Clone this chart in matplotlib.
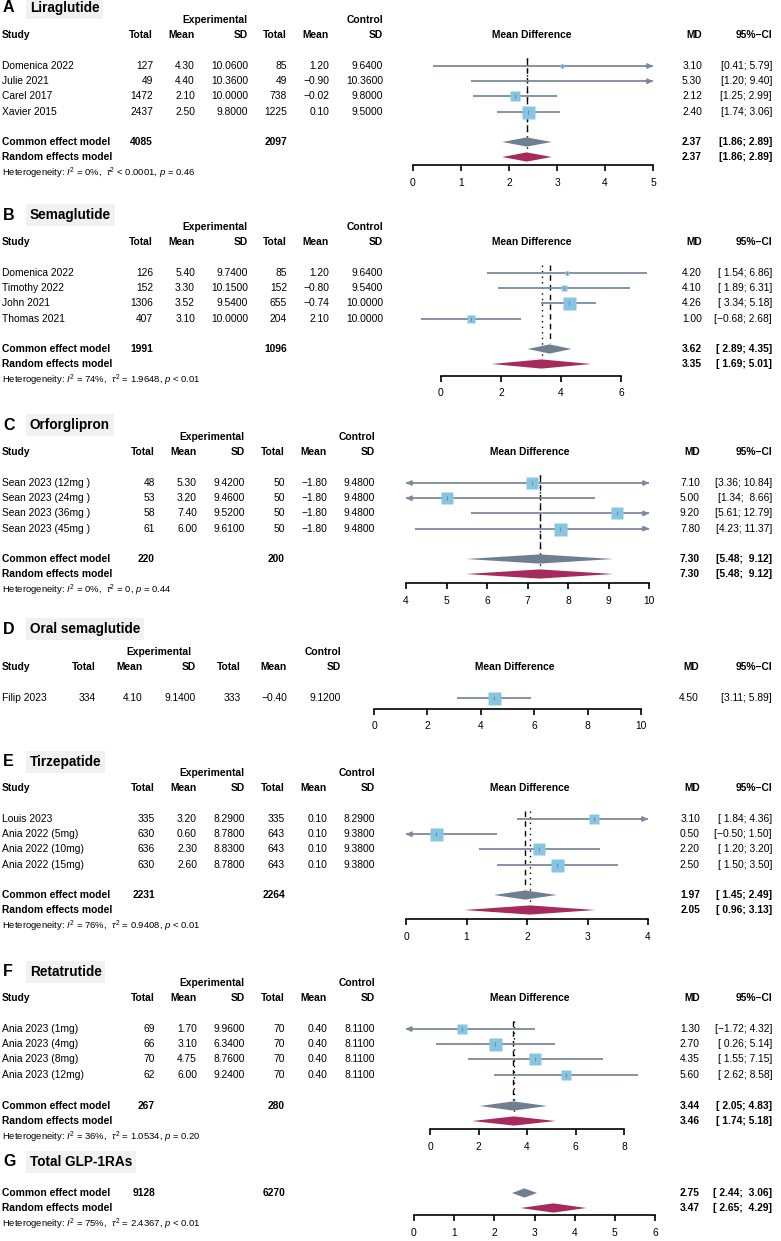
import numpy as np
import matplotlib
matplotlib.use("Agg")
import matplotlib.pyplot as plt

plt.rcParams['font.family'] = ['Liberation Sans', 'DejaVu Sans']
plt.rcParams['mathtext.fontset'] = 'custom'
plt.rcParams['mathtext.rm'] = 'Liberation Sans'
plt.rcParams['mathtext.it'] = 'Liberation Sans:italic'
plt.rcParams['mathtext.bf'] = 'Liberation Sans:bold'

# ---- data ----
# A Liraglutide
lira_study = ["Domenica 2022", "Julie 2021", "Carel 2017", "Xavier 2015"]
lira_e_n = [127, 49, 1472, 2437]
lira_e_mean = [4.30, 4.40, 2.10, 2.50]
lira_e_sd = [10.06, 10.36, 10.00, 9.80]
lira_c_n = [85, 49, 738, 1225]
lira_c_mean = [1.20, -0.90, -0.02, 0.10]
lira_c_sd = [9.64, 10.36, 9.80, 9.50]
lira_md = [3.10, 5.30, 2.12, 2.40]
lira_lo = [0.41, 1.20, 1.25, 1.74]
lira_hi = [5.79, 9.40, 2.99, 3.06]
lira_common = [2.37, 1.86, 2.89]
lira_random = [2.37, 1.86, 2.89]
lira_tot = [4085, 2097]
lira_het = ["0%", "< 0.0001", "= 0.46"]

# B Semaglutide
sema_study = ["Domenica 2022", "Timothy 2022", "John 2021", "Thomas 2021"]
sema_e_n = [126, 152, 1306, 407]
sema_e_mean = [5.40, 3.30, 3.52, 3.10]
sema_e_sd = [9.74, 10.15, 9.54, 10.00]
sema_c_n = [85, 152, 655, 204]
sema_c_mean = [1.20, -0.80, -0.74, 2.10]
sema_c_sd = [9.64, 9.54, 10.00, 10.00]
sema_md = [4.20, 4.10, 4.26, 1.00]
sema_lo = [1.54, 1.89, 3.34, -0.68]
sema_hi = [6.86, 6.31, 5.18, 2.68]
sema_common = [3.62, 2.89, 4.35]
sema_random = [3.35, 1.69, 5.01]
sema_tot = [1991, 1096]
sema_het = ["74%", "= 1.9648", "< 0.01"]

# C Orforglipron
orfo_study = ["Sean 2023 (12mg )", "Sean 2023 (24mg )", "Sean 2023 (36mg )", "Sean 2023 (45mg )"]
orfo_e_n = [48, 53, 58, 61]
orfo_e_mean = [5.30, 3.20, 7.40, 6.00]
orfo_e_sd = [9.42, 9.46, 9.52, 9.61]
orfo_c_n = [50, 50, 50, 50]
orfo_c_mean = [-1.80, -1.80, -1.80, -1.80]
orfo_c_sd = [9.48, 9.48, 9.48, 9.48]
orfo_md = [7.10, 5.00, 9.20, 7.80]
orfo_lo = [3.36, 1.34, 5.61, 4.23]
orfo_hi = [10.84, 8.66, 12.79, 11.37]
orfo_common = [7.30, 5.48, 9.12]
orfo_random = [7.30, 5.48, 9.12]
orfo_tot = [220, 200]
orfo_het = ["0%", "= 0", "= 0.44"]

# D Oral semaglutide
oral_study = ["Filip 2023"]
oral_e_n = [334]
oral_e_mean = [4.10]
oral_e_sd = [9.14]
oral_c_n = [333]
oral_c_mean = [-0.40]
oral_c_sd = [9.12]
oral_md = [4.50]
oral_lo = [3.11]
oral_hi = [5.89]

# E Tirzepatide
tirz_study = ["Louis 2023", "Ania 2022 (5mg)", "Ania 2022 (10mg)", "Ania 2022 (15mg)"]
tirz_e_n = [335, 630, 636, 630]
tirz_e_mean = [3.20, 0.60, 2.30, 2.60]
tirz_e_sd = [8.29, 8.78, 8.83, 8.78]
tirz_c_n = [335, 643, 643, 643]
tirz_c_mean = [0.10, 0.10, 0.10, 0.10]
tirz_c_sd = [8.29, 9.38, 9.38, 9.38]
tirz_md = [3.10, 0.50, 2.20, 2.50]
tirz_lo = [1.84, -0.50, 1.20, 1.50]
tirz_hi = [4.36, 1.50, 3.20, 3.50]
tirz_common = [1.97, 1.45, 2.49]
tirz_random = [2.05, 0.96, 3.13]
tirz_tot = [2231, 2264]
tirz_het = ["76%", "= 0.9408", "< 0.01"]

# F Retatrutide
reta_study = ["Ania 2023 (1mg)", "Ania 2023 (4mg)", "Ania 2023 (8mg)", "Ania 2023 (12mg)"]
reta_e_n = [69, 66, 70, 62]
reta_e_mean = [1.70, 3.10, 4.75, 6.00]
reta_e_sd = [9.96, 6.34, 8.76, 9.24]
reta_c_n = [70, 70, 70, 70]
reta_c_mean = [0.40, 0.40, 0.40, 0.40]
reta_c_sd = [8.11, 8.11, 8.11, 8.11]
reta_md = [1.30, 2.70, 4.35, 5.60]
reta_lo = [-1.72, 0.26, 1.55, 2.62]
reta_hi = [4.32, 5.14, 7.15, 8.58]
reta_common = [3.44, 2.05, 4.83]
reta_random = [3.46, 1.74, 5.18]
reta_tot = [267, 280]
reta_het = ["36%", "= 1.0534", "= 0.20"]

# G Total
total_common = [2.75, 2.44, 3.06]
total_random = [3.47, 2.65, 4.29]
total_tot = [9128, 6270]
total_het = ["75%", "= 2.4367", "< 0.01"]

# ---- styling ----
W, H = 781, 1241
LINE = "#7B8A9B"
SQ = "#87C6E3"
COMMON = "#6F7F90"
RANDOM = "#A62A5B"
FS = 7.4
DY = 15.2

fig = plt.figure(figsize=(W / 100, H / 100), dpi=100)


def fx(x):
    return x / W


def fy(y):
    return 1 - y / H


def put(x, y, s, ha="left", bold=False, size=FS, **kw):
    fig.text(fx(x), fy(y), s, ha=ha, va="center", fontsize=size,
             fontweight="bold" if bold else "normal", **kw)


def num(v, d=2):
    return f"{v:.{d}f}".replace("-", "\u2212")


cols_ab = dict(tn=153, mn=195, sd=248, tc=287, mc=329, sc=383, exp=215, mdc=532, md=702, ci=772)
cols_c = dict(tn=155, mn=197, sd=245, tc=285, mc=327, sc=375, exp=212, mdc=530, md=700, ci=772)
cols_d = dict(tn=96, mn=143, sd=196, tc=241, mc=287, sc=341, exp=159, mdc=515, md=699, ci=772)

panels = [
    dict(tag="A", name="Liraglutide", cols=cols_ab, title=8, row0=66, common_y=142, random_y=157, axis=165,
         ticks=[0, 1, 2, 3, 4, 5], px=(413, 653), xlim=(0, 5),
         study=lira_study, e_n=lira_e_n, e_mean=lira_e_mean, e_sd=lira_e_sd,
         c_n=lira_c_n, c_mean=lira_c_mean, c_sd=lira_c_sd, md=lira_md, lo=lira_lo, hi=lira_hi,
         common=lira_common, random=lira_random, tot=lira_tot, het=lira_het),
    dict(tag="B", name="Semaglutide", cols=cols_ab, title=215, row0=273, common_y=349, random_y=364, axis=376,
         ticks=[0, 2, 4, 6], px=(441, 621), xlim=(-1, 7),
         study=sema_study, e_n=sema_e_n, e_mean=sema_e_mean, e_sd=sema_e_sd,
         c_n=sema_c_n, c_mean=sema_c_mean, c_sd=sema_c_sd, md=sema_md, lo=sema_lo, hi=sema_hi,
         common=sema_common, random=sema_random, tot=sema_tot, het=sema_het),
    dict(tag="C", name="Orforglipron", cols=cols_c, title=425, row0=483, common_y=559, random_y=574, axis=583,
         ticks=[4, 5, 6, 7, 8, 9, 10], px=(406, 649), xlim=(4, 10),
         study=orfo_study, e_n=orfo_e_n, e_mean=orfo_e_mean, e_sd=orfo_e_sd,
         c_n=orfo_c_n, c_mean=orfo_c_mean, c_sd=orfo_c_sd, md=orfo_md, lo=orfo_lo, hi=orfo_hi,
         common=orfo_common, random=orfo_random, tot=orfo_tot, het=orfo_het),
    dict(tag="D", name="Oral semaglutide", cols=cols_d, title=629, row0=698, axis=709,
         ticks=[0, 2, 4, 6, 8, 10], px=(374, 641), xlim=(0, 10),
         study=oral_study, e_n=oral_e_n, e_mean=oral_e_mean, e_sd=oral_e_sd,
         c_n=oral_c_n, c_mean=oral_c_mean, c_sd=oral_c_sd, md=oral_md, lo=oral_lo, hi=oral_hi),
    dict(tag="E", name="Tirzepatide", cols=cols_c, title=762, row0=819, common_y=895, random_y=910, axis=919,
         ticks=[0, 1, 2, 3, 4], px=(406, 648), xlim=(0, 4),
         study=tirz_study, e_n=tirz_e_n, e_mean=tirz_e_mean, e_sd=tirz_e_sd,
         c_n=tirz_c_n, c_mean=tirz_c_mean, c_sd=tirz_c_sd, md=tirz_md, lo=tirz_lo, hi=tirz_hi,
         common=tirz_common, random=tirz_random, tot=tirz_tot, het=tirz_het),
    dict(tag="F", name="Retatrutide", cols=cols_c, title=972, row0=1029, common_y=1106, random_y=1121, axis=1129,
         ticks=[0, 2, 4, 6, 8], px=(430, 624), xlim=(-1, 9),
         study=reta_study, e_n=reta_e_n, e_mean=reta_e_mean, e_sd=reta_e_sd,
         c_n=reta_c_n, c_mean=reta_c_mean, c_sd=reta_c_sd, md=reta_md, lo=reta_lo, hi=reta_hi,
         common=reta_common, random=reta_random, tot=reta_tot, het=reta_het),
    dict(tag="G", name="Total GLP-1RAs", cols=cols_c, title=1162, common_y=1193, random_y=1208, axis=1215,
         ticks=[0, 1, 2, 3, 4, 5, 6], px=(414, 655), xlim=(0, 6), ci_w=(5, 5),
         common=total_common, random=total_random, tot=total_tot, het=total_het),
]

for p in panels:
    c = p["cols"]
    # panel title
    put(3, p["title"], p["tag"], bold=True, size=11.5)
    put(30, p["title"], p["name"], bold=True, size=9.8,
        bbox=dict(facecolor="#F1F1F1", edgecolor="none", pad=2.5))

    has_rows = "study" in p
    summary = "common" in p
    lo_all = list(p.get("lo", [])) + ([p["common"][1], p["random"][1]] if summary else [])
    hi_all = list(p.get("hi", [])) + ([p["common"][2], p["random"][2]] if summary else [])
    wl = max(len(num(v)) for v in lo_all)
    wh = max(len(num(v)) for v in hi_all)
    if "ci_w" in p:
        wl, wh = p["ci_w"]

    def ci_txt(a, b):
        return "[" + num(a).rjust(wl) + "; " + num(b).rjust(wh) + "]"

    if has_rows:
        r0 = p["row0"]
        ys = [r0 + i * DY for i in range(len(p["study"]))]
        hdr = r0 - 31
        put(c["exp"], r0 - 46, "Experimental", ha="center", bold=True)
        put(c["sc"], r0 - 46, "Control", ha="right", bold=True)
        put(2, hdr, "Study", bold=True)
        for k, lab in zip(["tn", "mn", "sd", "tc", "mc", "sc"], ["Total", "Mean", "SD", "Total", "Mean", "SD"]):
            put(c[k], hdr, lab, ha="right", bold=True)
        put(c["mdc"], hdr, "Mean Difference", ha="center", bold=True)
        put(c["md"], hdr, "MD", ha="right", bold=True)
        put(c["ci"], hdr, "95%\u2212CI", ha="right", bold=True)
        for i, y in enumerate(ys):
            put(2, y, p["study"][i])
            put(c["tn"], y, str(p["e_n"][i]), ha="right")
            put(c["mn"], y, num(p["e_mean"][i]), ha="right")
            put(c["sd"], y, num(p["e_sd"][i], 4), ha="right")
            put(c["tc"], y, str(p["c_n"][i]), ha="right")
            put(c["mc"], y, num(p["c_mean"][i]), ha="right")
            put(c["sc"], y, num(p["c_sd"][i], 4), ha="right")
            put(c["md"], y, num(p["md"][i]), ha="right")
            put(c["ci"], y, ci_txt(p["lo"][i], p["hi"][i]), ha="right")

    if summary:
        cy, ry = p["common_y"], p["random_y"]
        put(2, cy, "Common effect model", bold=True)
        put(c["tn"], cy, str(p["tot"][0]), ha="right", bold=True)
        put(c["tc"], cy, str(p["tot"][1]), ha="right", bold=True)
        put(2, ry, "Random effects model", bold=True)
        put(c["md"], cy, num(p["common"][0]), ha="right", bold=True)
        put(c["ci"], cy, ci_txt(p["common"][1], p["common"][2]), ha="right", bold=True)
        put(c["md"], ry, num(p["random"][0]), ha="right", bold=True)
        put(c["ci"], ry, ci_txt(p["random"][1], p["random"][2]), ha="right", bold=True)
        h = p["het"]
        put(2, ry + 16, r"Heterogeneity: $I^2$ = " + h[0] + r",  $\tau^2$ " + h[1] + r", $p$ " + h[2], size=6.8)

    # forest axes
    t0, t1 = p["ticks"][0], p["ticks"][-1]
    px0, px1 = p["px"]
    scl = (px1 - px0) / (t1 - t0)
    left = px0 + (p["xlim"][0] - t0) * scl
    right = px0 + (p["xlim"][1] - t0) * scl
    top = (p["row0"] if has_rows else p["common_y"]) - 14
    bottom = p["axis"]
    ax = fig.add_axes([fx(left), fy(bottom), (right - left) / W, (bottom - top) / H])
    ax.set_xlim(*p["xlim"])
    ax.set_ylim(bottom, top)
    ax.patch.set_alpha(0)
    for s in ["top", "left", "right"]:
        ax.spines[s].set_visible(False)
    ax.spines["bottom"].set_bounds(t0, t1)
    ax.spines["bottom"].set_linewidth(1.2)
    ax.set_xticks(p["ticks"])
    ax.set_xticklabels([str(t) for t in p["ticks"]])
    ax.set_yticks([])
    ax.tick_params(axis="x", direction="out", length=4, width=1.2, pad=5, labelsize=FS)

    x0, x1 = p["xlim"]
    if has_rows:
        e_n = np.array(p["e_n"], float); c_n = np.array(p["c_n"], float)
        e_sd = np.array(p["e_sd"]); c_sd = np.array(p["c_sd"])
        w = 1 / (e_sd ** 2 / e_n + c_sd ** 2 / c_n)
        side = 13 * np.sqrt(w / w.max())
        for i, y in enumerate(ys):
            a = max(p["lo"][i], x0)
            b = min(p["hi"][i], x1)
            ax.plot([a, b], [y, y], color=LINE, lw=1.3, solid_capstyle="butt", zorder=2, clip_on=False)
            span = (x1 - x0) * 0.03
            if p["hi"][i] > x1:
                ax.annotate("", xy=(x1, y), xytext=(x1 - span, y), annotation_clip=False,
                            arrowprops=dict(arrowstyle="-|>", color=LINE, lw=1.3, mutation_scale=7,
                                            shrinkA=0, shrinkB=0))
            if p["lo"][i] < x0:
                ax.annotate("", xy=(x0, y), xytext=(x0 + span, y), annotation_clip=False,
                            arrowprops=dict(arrowstyle="-|>", color=LINE, lw=1.3, mutation_scale=7,
                                            shrinkA=0, shrinkB=0))
            if x0 <= p["md"][i] <= x1:
                ax.plot(p["md"][i], y, marker="s", ms=side[i] * 0.72, color=SQ, mec="none", zorder=3, clip_on=False)
                ax.plot(p["md"][i], y, marker="|", ms=3, mew=0.8, color=LINE, zorder=4, clip_on=False)

    if summary:
        hd = 4.6
        for est, yy, col in [(p["common"], p["common_y"], COMMON), (p["random"], p["random_y"], RANDOM)]:
            ax.fill([est[1], est[0], est[2], est[0]], [yy, yy - hd, yy, yy + hd], color=col, lw=0, zorder=3)
        if has_rows:
            ax.vlines(p["common"][0], p["row0"] - 8, p["common_y"] - hd - 1, colors="black",
                      linestyles=(0, (4, 3)), lw=1.0, zorder=1)
            ax.vlines(p["random"][0], p["row0"] - 8, p["random_y"] - hd - 1, colors="black",
                      linestyles=(0, (1, 3)), lw=1.0, zorder=1)

fig.savefig("out.png", dpi=100, facecolor="white")
